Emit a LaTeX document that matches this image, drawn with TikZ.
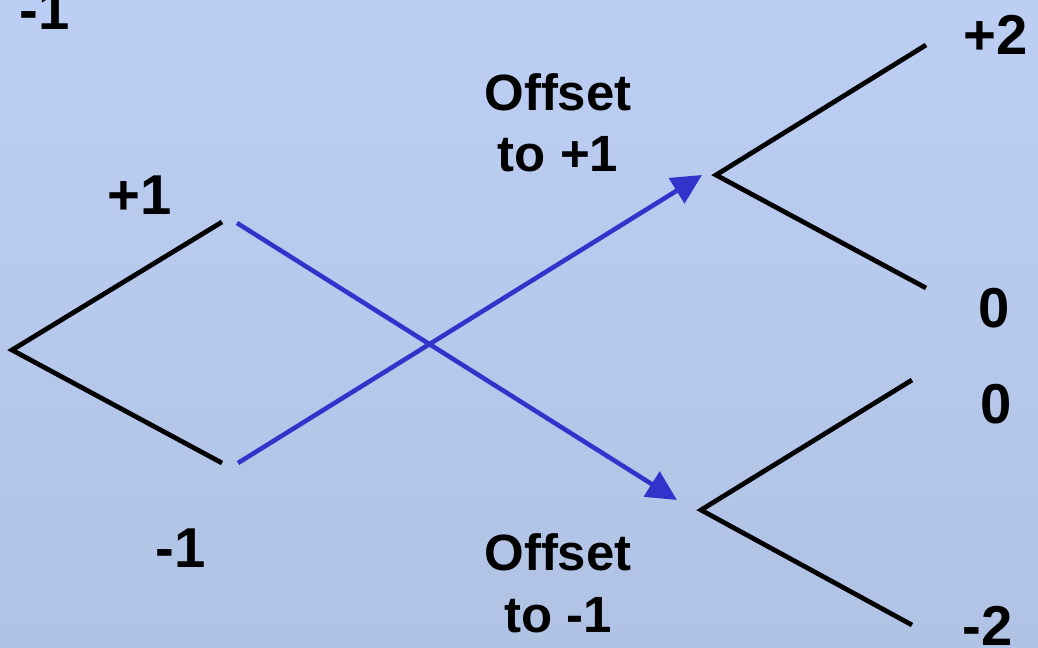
\documentclass[tikz,border=0pt]{standalone}
\usepackage{fontspec}
\setmainfont{Liberation Sans}
\usetikzlibrary{arrows.meta}
\definecolor{bgtop}{RGB}{188,206,243}
\definecolor{bgbot}{RGB}{177,195,228}
\definecolor{offblue}{RGB}{51,51,204}

\begin{document}
\begin{tikzpicture}[x=0.02cm, y=-0.02cm,
	every node/.style={font=\fontsize{32}{36}\selectfont\bfseries, inner sep=0pt},
	branch/.style={line width=2.7pt, black},
	offset/.style={line width=2.6pt, offblue, -{Triangle[length=0.6cm,width=0.58cm]}},
	offlabel/.style={font=\fontsize{29}{35}\selectfont\bfseries, align=center, anchor=base}]
	\useasboundingbox (0,0) rectangle (1038,648);
	\shade[top color=bgtop, bottom color=bgbot] (0,0) rectangle (1038,648);
	% left tree
	\coordinate (root) at (12,350);
	\coordinate (up) at (222,222);
	\coordinate (dn) at (222,463);
	\draw[branch] (up) -- (root) -- (dn);
	\node[anchor=base west] (lup) at (107,215) {+1};
	\node[anchor=base west] (ldn) at (155,567) {-1};
	\node[anchor=base west] (ltop) at (19,30) {-1};
	% offsets
	\coordinate (upstart) at (237,223);
	\coordinate (dnstart) at (238,463);
	\coordinate (uptip) at (702,175);
	\coordinate (dntip) at (677,500);
	\draw[offset] (upstart) -- (dntip);
	\draw[offset] (dnstart) -- (uptip);
	\node[offlabel] (oup) at (558,172) {Offset\\to +1};
	\node[offlabel] (odn) at (558,632) {Offset\\to -1};
	% right trees
	\coordinate (ra) at (716,175);
	\coordinate (raup) at (926,45);
	\coordinate (radn) at (926,288);
	\draw[branch] (raup) -- (ra) -- (radn);
	\coordinate (rb) at (701,510);
	\coordinate (rbup) at (912,380);
	\coordinate (rbdn) at (912,625);
	\draw[branch] (rbup) -- (rb) -- (rbdn);
	\node[anchor=base west] (rp2) at (963,55) {+2};
	\node[anchor=base west] (rz1) at (978,328) {0};
	\node[anchor=base west] (rz2) at (980,423) {0};
	\node[anchor=base west] (rm2) at (962,645) {-2};
\end{tikzpicture}
\end{document}
